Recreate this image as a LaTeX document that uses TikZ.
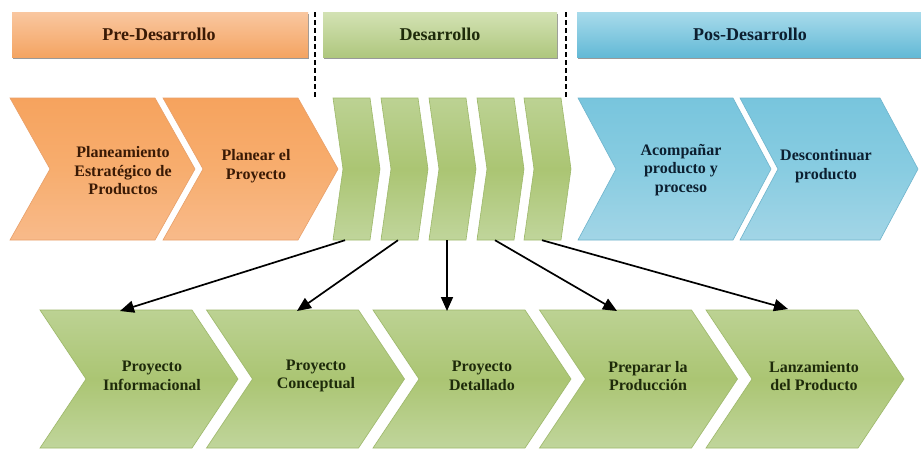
\documentclass[tikz,border=0pt]{standalone}
\usepackage{fontspec}
\setmainfont{Liberation Serif}
\usetikzlibrary{arrows.meta}
\definecolor{oTop}{HTML}{F6A35E}
\definecolor{oMid}{HTML}{F7AD6E}
\definecolor{oBot}{HTML}{F8BA8A}
\definecolor{oLine}{HTML}{E8A06A}
\definecolor{gTop}{HTML}{BCD293}
\definecolor{gMid}{HTML}{ABC573}
\definecolor{gBot}{HTML}{C0D59B}
\definecolor{gLine}{HTML}{9DB86A}
\definecolor{bTop}{HTML}{78C5DD}
\definecolor{bMid}{HTML}{88CCE1}
\definecolor{bBot}{HTML}{A2D5E6}
\definecolor{bLine}{HTML}{6FB4CC}
\definecolor{hoTop}{HTML}{F9C7A0}
\definecolor{hoMid}{HTML}{F6A25A}
\definecolor{hoBot}{HTML}{F4A462}
\definecolor{hgTop}{HTML}{D3E2B4}
\definecolor{hgMid}{HTML}{B4CB84}
\definecolor{hgBot}{HTML}{AFC77E}
\definecolor{hbTop}{HTML}{A8DBEB}
\definecolor{hbMid}{HTML}{5FB9D7}
\definecolor{hbBot}{HTML}{63B9D6}
\definecolor{txtO}{HTML}{3A1A05}
\definecolor{txtG}{HTML}{1E2A0A}
\definecolor{txtB}{HTML}{0C1F30}
\tikzset{
  orangechev/.style={top color=oTop, bottom color=oBot, middle color=oMid, draw=oLine, line width=0.6pt},
  greenchev/.style={top color=gTop, bottom color=gBot, middle color=gMid, draw=gLine, line width=0.6pt},
  bluechev/.style={top color=bTop, bottom color=bBot, middle color=bMid, draw=bLine, line width=0.6pt},
  chevtext/.style={align=center, inner sep=0pt, font=\fontsize{16}{18.5}\selectfont\bfseries},
  headtext/.style={inner sep=0pt, font=\fontsize{18}{20}\selectfont\bfseries},
  divider/.style={line width=1.6pt, dash pattern=on 5pt off 3pt},
  linkarrow/.style={line width=1.7pt, -{Triangle[length=14pt,width=12pt]}},
  shadowbar/.style={fill=black!40, draw=none},
}
% #1 left x, #2 top y, #3 body width, #4 height, #5 depth, #6 style
\newcommand\chevshape[6]{%
  \path[#6] (#1,#2) -- ({#1+#3},#2) -- ({#1+#3+#5},{#2+#4/2}) -- ({#1+#3},{#2+#4})
    -- (#1,{#2+#4}) -- ({#1+#5},{#2+#4/2}) -- cycle;}
\begin{document}
\begin{tikzpicture}[x=1pt,y=-1pt]
\useasboundingbox (0,0) rectangle (921,451);
\fill[white] (0,0) rectangle (921,451);

% header bars
\fill[shadowbar] (13,14) rectangle (309,59);
\shade[top color=hoTop, middle color=hoMid, bottom color=hoBot] (12,12) rectangle (308,57);
\node[headtext, text=txtO] (hpre) at (159,34) {Pre-Desarrollo};
\fill[shadowbar] (324,14) rectangle (558,59);
\shade[top color=hgTop, middle color=hgMid, bottom color=hgBot] (323,12) rectangle (557,57);
\node[headtext, text=txtG] (hdes) at (440,34) {Desarrollo};
\fill[shadowbar] (578,14) rectangle (921,59);
\shade[top color=hbTop, middle color=hbMid, bottom color=hbBot] (577,12) rectangle (921,57);
\node[headtext, text=txtB] (hpos) at (750,34) {Pos-Desarrollo};

% dashed dividers
\coordinate (d1a) at (315,12);
\coordinate (d1b) at (315,98);
\coordinate (d2a) at (566,12);
\coordinate (d2b) at (566,98);
\draw[divider] (d1a) -- (d1b);
\draw[divider] (d2a) -- (d2b);

% top row: orange
\chevshape{10}{98}{145}{142}{40}{orangechev}
\node[chevtext, text=txtO] (o1) at (123,171) {Planeamiento\\Estratégico de\\Productos};
\chevshape{163}{98}{135}{142}{40}{orangechev}
\node[chevtext, text=txtO] (o2) at (256,166) {Planear el\\Proyecto};

% top row: small green
\chevshape{333}{98}{37}{142}{10}{greenchev}
\chevshape{381}{98}{37}{142}{10}{greenchev}
\chevshape{429}{98}{37}{142}{10}{greenchev}
\chevshape{477}{98}{37}{142}{10}{greenchev}
\chevshape{524}{98}{37}{142}{10}{greenchev}
\node[inner sep=0pt, minimum width=1pt, minimum height=142pt] (g1) at (345,169) {};
\node[inner sep=0pt, minimum width=1pt, minimum height=142pt] (g2) at (398,169) {};
\node[inner sep=0pt, minimum width=1pt, minimum height=142pt] (g3) at (447,169) {};
\node[inner sep=0pt, minimum width=1pt, minimum height=142pt] (g4) at (495,169) {};
\node[inner sep=0pt, minimum width=1pt, minimum height=142pt] (g5) at (542,169) {};

% top row: blue
\chevshape{578}{98}{155}{142}{38}{bluechev}
\node[chevtext, text=txtB] (b1) at (681,170) {Acompañar\\producto y\\proceso};
\chevshape{740}{98}{140}{142}{38}{bluechev}
\node[chevtext, text=txtB] (b2) at (826,166) {Descontinuar\\producto};

% bottom row
\chevshape{40}{310}{152}{138}{46}{greenchev}
\node[chevtext, text=txtG] (p1) at (152,376) {Proyecto\\Informacional};
\chevshape{206.5}{310}{152}{138}{46}{greenchev}
\node[chevtext, text=txtG] (p2) at (316,376) {Proyecto\\Conceptual};
\chevshape{373}{310}{152}{138}{46}{greenchev}
\node[chevtext, text=txtG] (p3) at (482,376) {Proyecto\\Detallado};
\chevshape{539.5}{310}{152}{138}{46}{greenchev}
\node[chevtext, text=txtG] (p4) at (648,376) {Preparar la\\Producción};
\chevshape{706}{310}{152}{138}{46}{greenchev}
\node[chevtext, text=txtG] (p5) at (814,376) {Lanzamiento\\del Producto};

\coordinate (t1) at (120,311);
\coordinate (t2) at (297,311);
\coordinate (t3) at (447,311);
\coordinate (t4) at (617,311);
\coordinate (t5) at (788,309);

% arrows
\draw[linkarrow] (g1.south) -- (t1);
\draw[linkarrow] (g2.south) -- (t2);
\draw[linkarrow] (g3.south) -- (t3);
\draw[linkarrow] (g4.south) -- (t4);
\draw[linkarrow] (g5.south) -- (t5);
\end{tikzpicture}
\end{document}
